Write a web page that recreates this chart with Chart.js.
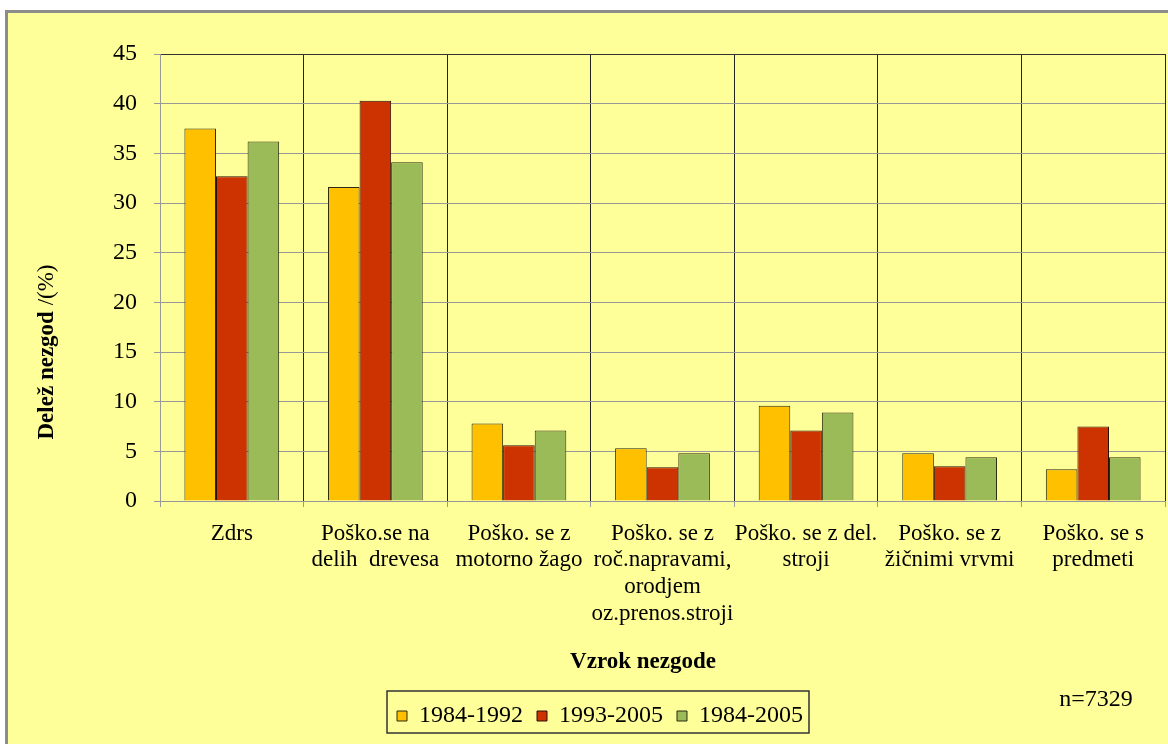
<!DOCTYPE html>
<html>
<head>
<meta charset="utf-8">
<script src="https://cdn.jsdelivr.net/npm/chart.js@4/dist/chart.umd.min.js"></script>
<style>
  html, body { margin: 0; padding: 0; background: #fff; }
  #wrap { width: 1168px; height: 744px; }
</style>
</head>
<body>
<div id="wrap"><canvas id="nezgodeChart" width="1168" height="744"></canvas></div>
<script>
const categories = [
    'Zdrs',
    ['Poško.se na', 'delih  drevesa'],
    ['Poško. se z', 'motorno žago'],
    ['Poško. se z', 'roč.napravami,', 'orodjem', 'oz.prenos.stroji'],
    ['Poško. se z del.', 'stroji'],
    ['Poško. se z', 'žičnimi vrvmi'],
    ['Poško. se s', 'predmeti']
];
const periods = ['1984-1992', '1993-2005', '1984-2005'];
const share_84_92 = [37.5, 31.6, 7.8, 5.3, 9.6, 4.8, 3.2];
const share_93_05 = [32.7, 40.3, 5.6, 3.4, 7.1, 3.5, 7.5];
const share_84_05 = [36.2, 34.1, 7.1, 4.8, 8.9, 4.4, 4.4];
const yTicks = [0, 5, 10, 15, 20, 25, 30, 35, 40, 45];

const yTitleBold = 'Delež nezgod';
const yTitleRest = ' /(%)';
const xTitle = 'Vzrok nezgode';
const noteText = 'n=7329';

const serif = '"Liberation Serif", "Times New Roman", serif';

// excel-like frame, axis titles, legend box
const frame = {
    id: 'frame',
    beforeDraw(chart) {
        const c = chart.ctx;
        c.save();
        c.fillStyle = '#fff';
        c.fillRect(0, 0, chart.width, chart.height);
        c.fillStyle = '#FFFF99';
        c.fillRect(7, 12, chart.width, chart.height);
        c.strokeStyle = '#8c8c8c';
        c.lineWidth = 3;
        c.strokeRect(6.5, 11.5, chart.width + 10, chart.height + 10);
        c.restore();
    },
    afterDraw(chart) {
        const c = chart.ctx;
        c.save();
        c.fillStyle = '#000';
        // y title, bold part + normal part
        c.translate(47, 352);
        c.rotate(-Math.PI / 2);
        c.textBaseline = 'middle';
        c.font = 'bold 23px ' + serif;
        const wb = c.measureText(yTitleBold).width;
        c.font = '23px ' + serif;
        const wr = c.measureText(yTitleRest).width;
        let x0 = -(wb + wr) / 2;
        c.textAlign = 'left';
        c.font = 'bold 23px ' + serif;
        c.fillText(yTitleBold, x0, 0);
        c.font = '23px ' + serif;
        c.fillText(yTitleRest, x0 + wb, 0);
        c.restore();

        c.save();
        c.fillStyle = '#000';
        c.textAlign = 'center';
        c.textBaseline = 'middle';
        c.font = 'bold 23px ' + serif;
        c.fillText(xTitle, 643, 662);
        c.font = '24px ' + serif;
        c.fillText(noteText, 1096, 700);

        // legend border
        const boxes = chart.legend.legendHitBoxes;
        if (boxes && boxes.length) {
            const last = boxes[boxes.length - 1];
            c.strokeStyle = '#333';
            c.lineWidth = 1.5;
            c.strokeRect(boxes[0].left - 10, 691, last.left + last.width - boxes[0].left + 16, 42);
        }
        c.restore();
    }
};

new Chart(document.getElementById('nezgodeChart'), {
    type: 'bar',
    data: {
        labels: categories,
        datasets: [{
            label: periods[0],
            data: share_84_92,
            backgroundColor: '#FFC000',
            borderColor: '#2a2a10',
            borderWidth: 1
        }, {
            label: periods[1],
            data: share_93_05,
            backgroundColor: '#CC3300',
            borderColor: '#2a1008',
            borderWidth: 1
        }, {
            label: periods[2],
            data: share_84_05,
            backgroundColor: '#9BBB59',
            borderColor: '#2a2a10',
            borderWidth: 1
        }]
    },
    options: {
        responsive: false,
        animation: false,
        devicePixelRatio: 1,
        datasets: {
            bar: { barPercentage: 1, categoryPercentage: 0.66 }
        },
        layout: { padding: { left: 35, right: 3, top: 54, bottom: 6 } },
        plugins: {
            tooltip: { enabled: false },
            legend: {
                position: 'bottom',
                labels: {
                    color: '#000',
                    font: { family: serif, size: 24 },
                    boxWidth: 10,
                    boxHeight: 10,
                    padding: 14
                }
            }
        },
        scales: {
            x: {
                afterFit(scale) { scale.height = 189; },
                grid: {
                    offset: true,
                    color: '#222',
                    tickColor: '#999',
                    tickLength: 6,
                    drawTicks: true
                },
                border: { color: '#999', width: 1 },
                ticks: {
                    color: '#000',
                    font: { family: serif, size: 23, lineHeight: 1.17 },
                    padding: 13,
                    maxRotation: 0,
                    autoSkip: false
                }
            },
            y: {
                min: 0,
                max: 45,
                afterFit(scale) { scale.width = 125; },
                afterBuildTicks(scale) { scale.ticks = yTicks.map(v => ({ value: v })); },
                grid: {
                    color: ctx => (ctx.tick && ctx.tick.value === 45 ? '#333' : '#999'),
                    tickColor: '#999',
                    tickLength: 6
                },
                border: { color: '#999', width: 1 },
                ticks: {
                    color: '#000',
                    font: { family: serif, size: 24 },
                    padding: 17
                }
            }
        }
    },
    plugins: [frame]
});
</script>
</body>
</html>
